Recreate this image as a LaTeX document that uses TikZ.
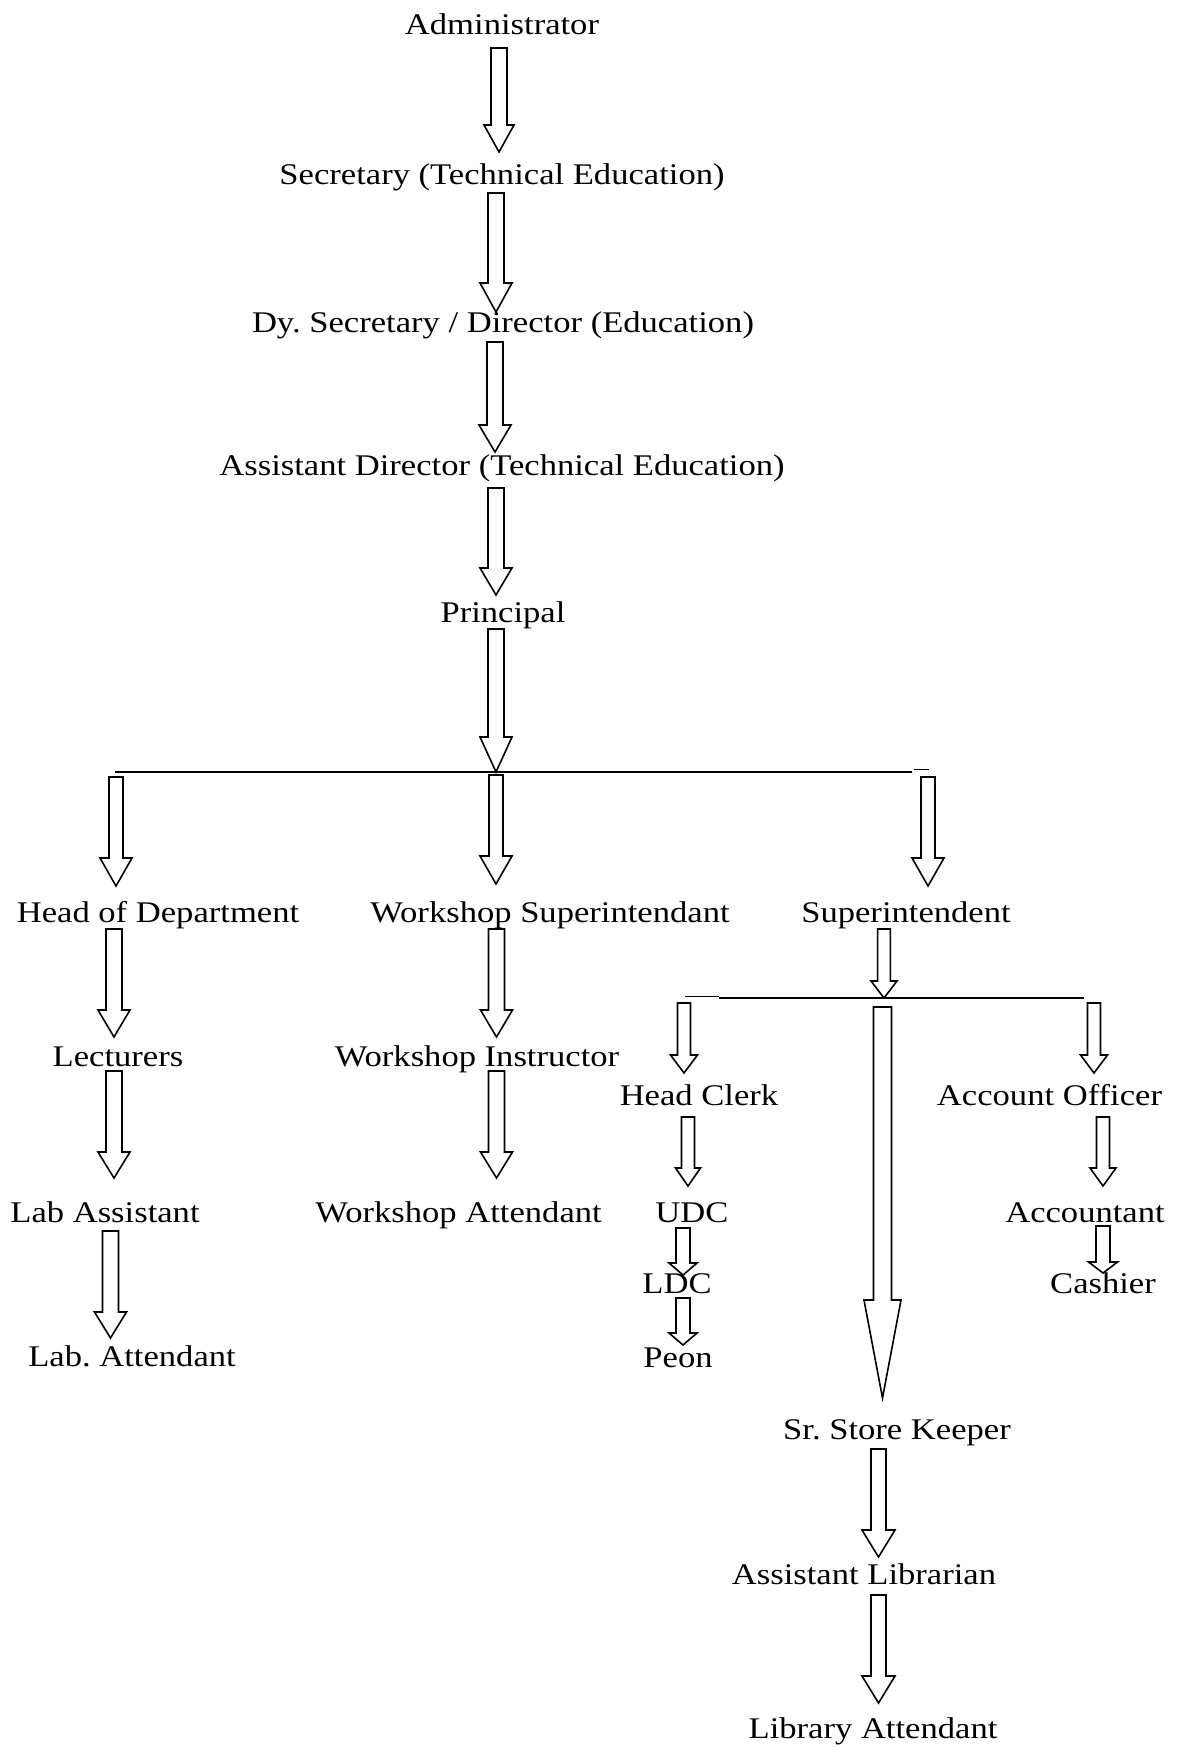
\documentclass[tikz,border=0pt]{standalone}
\usepackage{fontspec}
\setmainfont{Liberation Serif}[FakeStretch=1.153]
\usetikzlibrary{calc}
\frenchspacing
\tikzset{
  lbl/.style={anchor=base,inner sep=0pt,font=\fontsize{30}{36}\selectfont},
  blk/.style={line width=1.6pt,draw=black,fill=white,line join=miter},
  bus/.style={line width=2pt}
}
\newcommand{\hollowarrow}[5]{%
  \draw[blk] let \p1=#1, \p2=#2 in
    (\x1-#3pt,\y1) -- (\x1+#3pt,\y1) -- (\x1+#3pt,\y2+#5pt) -- (\x1+#4pt,\y2+#5pt)
    -- (\x1,\y2) -- (\x1-#4pt,\y2+#5pt) -- (\x1-#3pt,\y2+#5pt) -- cycle;}
\begin{document}
\begin{tikzpicture}[x=1pt,y=-1pt]
\fill[white] (0,0) rectangle (1182,1747);
\useasboundingbox (0,0) rectangle (1182,1747);
\node[lbl] (adm) at (502,35) {Administrator};
\node[lbl] (sec) at (502,185) {Secretary (Technical Education)};
\node[lbl] (dys) at (503,332) {Dy. Secretary / Director (Education)};
\node[lbl] (adr) at (502,475) {Assistant Director (Technical Education)};
\node[lbl] (prin) at (503,622) {Principal};
\node[lbl] (hod) at (158,922) {Head of Department};
\node[lbl] (ws) at (550,922) {Workshop Superintendant};
\node[lbl] (supt) at (906,922) {Superintendent};
\node[lbl] (lect) at (118,1066) {Lecturers};
\node[lbl] (wi) at (477,1066) {Workshop Instructor};
\node[lbl] (laba) at (105,1222) {Lab Assistant};
\node[lbl] (wa) at (458.6,1222) {Workshop Attendant};
\node[lbl] (labatt) at (132,1366) {Lab. Attendant};
\node[lbl] (hc) at (699,1105) {Head Clerk};
\node[lbl] (ao) at (1049.5,1105) {Account Officer};
\node[lbl] (udc) at (692,1222) {UDC};
\node[lbl] (ldc) at (677,1293) {LDC};
\node[lbl] (peon) at (678,1367) {Peon};
\node[lbl] (acc) at (1085,1222) {Accountant};
\node[lbl] (cash) at (1103,1293) {Cashier};
\node[lbl] (ssk) at (897,1439) {Sr. Store Keeper};
\node[lbl] (al) at (864,1584) {Assistant Librarian};
\node[lbl] (la) at (873,1738) {Library Attendant};
% branch lines
\coordinate (busL) at (115,772);
\coordinate (jn1) at (496,772);
\coordinate (busR) at (912,772);
\draw[bus] (busL) -- (busR);
\draw[line width=1pt] ([shift={(2,-3)}]busR) -- ++(15,0);
\coordinate (b2a) at (685,996);
\coordinate (b2b) at (719,998);
\coordinate (jn2) at (884,998);
\coordinate (b2c) at (1084,998);
\draw[line width=1pt] (b2a) -- ([shift={(0,-2)}]b2b);
\draw[bus] (b2b) -- (b2c);
% main column
\hollowarrow{([shift={(-3,13)}]adm.base)}{([shift={(0,-33)}]sec.base)}{8}{15}{27}
\hollowarrow{([shift={(-6,8)}]sec.base)}{([shift={(0,-20)}]dys.base)}{8}{16}{29}
\hollowarrow{([shift={(-8,10)}]dys.base)}{([shift={(0,-23)}]adr.base)}{8}{16}{27}
\hollowarrow{([shift={(-6,13)}]adr.base)}{([shift={(0,-27)}]prin.base)}{8}{16}{27}
\hollowarrow{([shift={(-7,7)}]prin.base)}{(jn1)}{8}{16}{35}
\hollowarrow{([shift={(1,5)}]busL)}{([shift={(0,-36)}]hod.base)}{7}{16}{28}
\hollowarrow{([shift={(0,3)}]jn1)}{([shift={(0,-38)}]ws.base)}{7}{16}{28}
\hollowarrow{([shift={(16,5)}]busR)}{([shift={(0,-36)}]supt.base)}{7}{16}{28}
% left branches
\hollowarrow{([shift={(-44,7)}]hod.base)}{([shift={(0,-29)}]lect.base)}{8}{16}{27}
\hollowarrow{([shift={(-4,5)}]lect.base)}{([shift={(0,-44)}]laba.base)}{8}{16}{26}
\hollowarrow{([shift={(5.5,9)}]laba.base)}{([shift={(0,-28)}]labatt.base)}{8}{16}{26}
\hollowarrow{([shift={(-53.5,7)}]ws.base)}{([shift={(0,-29)}]wi.base)}{8}{16}{27}
\hollowarrow{([shift={(19.5,5)}]wi.base)}{([shift={(0,-44)}]wa.base)}{8}{16}{26}
% office branch
\hollowarrow{([shift={(-22,7)}]supt.base)}{(jn2)}{6.4}{13}{17}
\hollowarrow{([shift={(-1,7)}]b2a)}{([shift={(0,-32)}]hc.base)}{6.5}{13.5}{18}
\hollowarrow{([shift={(-1.5,9)}]jn2)}{([shift={(0,-41)}]ssk.base)}{9}{18.5}{98}
\hollowarrow{([shift={(10,5)}]b2c)}{([shift={(0,-32)}]ao.base)}{6.5}{13.5}{18}
\hollowarrow{([shift={(-11,12)}]hc.base)}{([shift={(0,-36)}]udc.base)}{6.5}{12.5}{18}
\hollowarrow{([shift={(-9,6)}]udc.base)}{([shift={(0,-18)}]ldc.base)}{7}{14}{12}
\hollowarrow{([shift={(6,5)}]ldc.base)}{([shift={(0,-22)}]peon.base)}{7}{14}{12}
\hollowarrow{([shift={(53.5,12)}]ao.base)}{([shift={(0,-36)}]acc.base)}{6.5}{13}{18}
\hollowarrow{([shift={(18,4)}]acc.base)}{([shift={(0,-20)}]cash.base)}{7}{14.5}{11}
\hollowarrow{([shift={(-18.5,10)}]ssk.base)}{([shift={(0,-27)}]al.base)}{7.5}{16.5}{27}
\hollowarrow{([shift={(14.5,11)}]al.base)}{([shift={(0,-35)}]la.base)}{7.5}{16.5}{27}
\end{tikzpicture}
\end{document}
